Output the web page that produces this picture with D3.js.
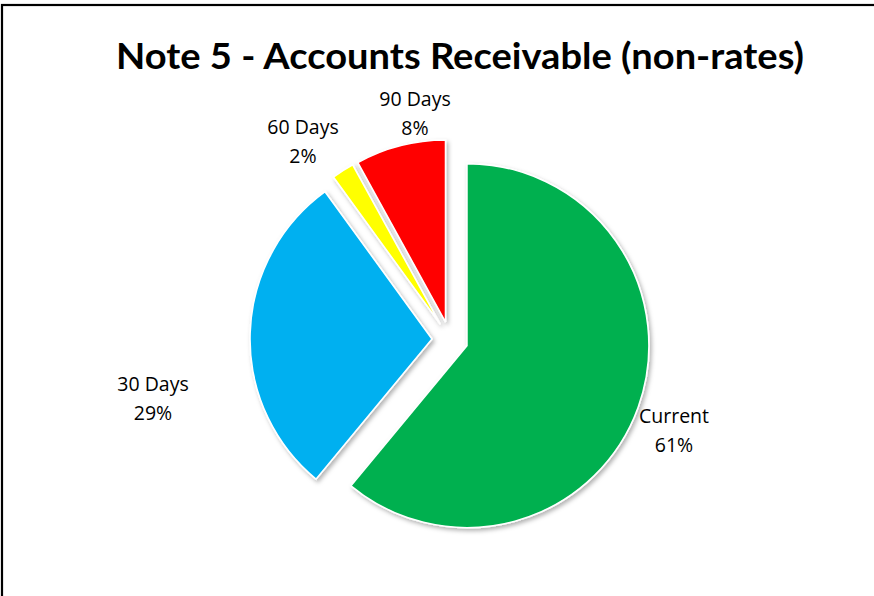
<!DOCTYPE html>
<html>
<head>
<meta charset="utf-8">
<script src="https://cdn.jsdelivr.net/npm/d3@7/dist/d3.min.js"></script>
<style>
  html, body { margin: 0; padding: 0; background: #fff; }
  svg { display: block; }
</style>
</head>
<body>
<svg id="chart" width="874" height="596"></svg>
<script>
// Ageing of non-rates receivables
const categories = ["Current", "30 Days", "60 Days", "90 Days"];
const shares = [61, 29, 2, 8];
const sliceColors = ["#00B050", "#00B0F0", "#FFFF00", "#FF0000"];
const chartTitle = "Note 5 - Accounts Receivable (non-rates)";

const W = 874, H = 596;
const cx = 450, cy = 339.5, radius = 182, explode = 18;

const svg = d3.select("#chart");

// drop shadow under the slices
const defs = svg.append("defs");
const f = defs.append("filter").attr("id", "shadow")
  .attr("x", "-20%").attr("y", "-20%").attr("width", "140%").attr("height", "140%");
f.append("feDropShadow").attr("dx", 2).attr("dy", 2.5).attr("stdDeviation", 2.2)
  .attr("flood-color", "#000").attr("flood-opacity", 0.3);

// outer frame
svg.append("rect")
  .attr("x", 2).attr("y", 5).attr("width", W + 10).attr("height", H + 10)
  .attr("fill", "none").attr("stroke", "#000").attr("stroke-width", 2.2);

// title
svg.append("text")
  .attr("x", 460).attr("y", 69)
  .attr("text-anchor", "middle")
  .attr("font-family", "Lato, 'Open Sans', sans-serif")
  .attr("font-weight", "bold")
  .attr("font-size", 37)
  .attr("textLength", 688)
  .attr("lengthAdjust", "spacingAndGlyphs")
  .attr("fill", "#000")
  .text(chartTitle);

const data = categories.map((c, i) => ({ name: c, value: shares[i], color: sliceColors[i] }));
const pie = d3.pie().sort(null).value(d => d.value).startAngle(0).endAngle(2 * Math.PI);
const arc = d3.arc().innerRadius(0).outerRadius(radius);
const arcs = pie(data);

const g = svg.append("g").attr("transform", `translate(${cx},${cy})`);
g.selectAll("path.slice")
  .data(arcs)
  .join("path")
  .attr("class", "slice")
  .attr("transform", d => {
    const m = (d.startAngle + d.endAngle) / 2;
    return `translate(${Math.sin(m) * explode},${-Math.cos(m) * explode})`;
  })
  .attr("d", arc)
  .attr("fill", d => d.data.color)
  .attr("stroke", "#fff")
  .attr("stroke-width", 1.6)
  .attr("stroke-linejoin", "miter")
  .attr("filter", "url(#shadow)");

// data labels: name and percentage
const labelPos = {
  "Current": [674, 422.5],
  "30 Days": [153, 390.5],
  "60 Days": [303, 133.5],
  "90 Days": [415, 105.5]
};
const lg = svg.append("g")
  .attr("font-family", "'Open Sans', Lato, sans-serif")
  .attr("font-size", 19.5)
  .attr("fill", "#000")
  .attr("text-anchor", "middle");
arcs.forEach(d => {
  const [x, y] = labelPos[d.data.name];
  const t = lg.append("text").attr("x", x).attr("y", y);
  t.append("tspan").attr("x", x).attr("dy", 0).text(d.data.name);
  t.append("tspan").attr("x", x).attr("dy", 29).text(d.data.value + "%");
});
</script>
</body>
</html>
